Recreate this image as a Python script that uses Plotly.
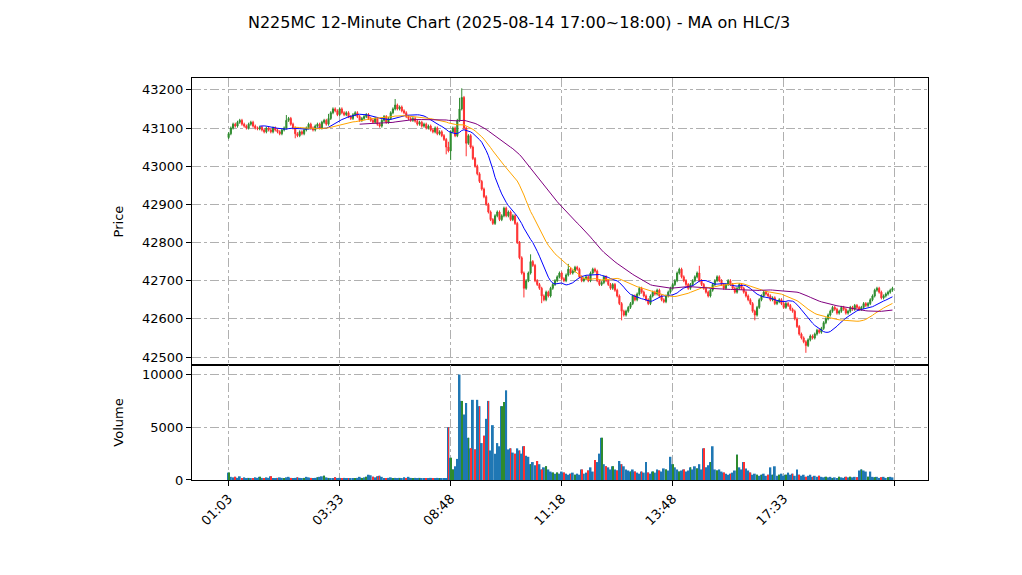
import numpy as np
import pandas as pd
import plotly.graph_objects as go
from plotly.subplots import make_subplots

# closes, 300 bars of 12 minutes
closes = [
    43085, 43100, 43110, 43105, 43115, 43120, 43110, 43105, 43100, 43110,
    43115, 43105, 43100, 43098, 43102, 43095, 43090, 43100, 43095, 43090,
    43100, 43095, 43090, 43085, 43095, 43100, 43120, 43125, 43110, 43100,
    43085, 43080, 43090, 43085, 43095, 43100, 43110, 43100, 43095, 43105,
    43110, 43100, 43115, 43120, 43110, 43125, 43140, 43150, 43145, 43135,
    43150, 43140, 43135, 43140, 43130, 43125, 43135, 43140, 43130, 43120,
    43125, 43130, 43135, 43125, 43120, 43115, 43125, 43110, 43105, 43120,
    43130, 43115, 43125, 43140, 43150, 43160, 43150, 43155, 43145, 43140,
    43130, 43125, 43120, 43125, 43118, 43110, 43115, 43105, 43110, 43100,
    43105, 43095, 43090, 43100, 43085, 43090, 43080, 43070, 43050, 43040,
    43090, 43100, 43080, 43120, 43150, 43180, 43100, 43060, 43080, 43050,
    43020, 43000, 42980, 42960, 42940, 42920, 42900, 42880, 42860, 42850,
    42870, 42880, 42860, 42870, 42890, 42870, 42880, 42860, 42870, 42850,
    42800, 42760, 42720, 42680, 42700, 42720, 42750, 42740, 42700, 42690,
    42680, 42660, 42650, 42670, 42660, 42680, 42690, 42700, 42710, 42720,
    42705, 42700, 42715, 42730, 42720, 42725, 42735, 42730, 42710, 42700,
    42705, 42710, 42700, 42720, 42730, 42725, 42700, 42690, 42695, 42710,
    42700, 42690, 42680, 42690, 42675, 42660, 42640, 42620, 42610, 42620,
    42630, 42640, 42660, 42650, 42665, 42680, 42670, 42660, 42650, 42640,
    42660, 42670, 42665, 42675, 42660, 42650, 42645, 42660, 42670, 42680,
    42690, 42700, 42720, 42730, 42710, 42700, 42690, 42680, 42690, 42700,
    42710, 42720, 42700, 42690, 42680, 42670, 42660, 42675, 42690, 42700,
    42710, 42700, 42690, 42680, 42690, 42700, 42690, 42680, 42670, 42680,
    42690, 42680, 42670, 42660, 42650, 42640, 42620, 42610, 42630, 42650,
    42660, 42670, 42665, 42660, 42650, 42655, 42640, 42645, 42650, 42640,
    42630, 42640, 42635, 42625, 42620, 42600, 42580, 42560, 42550, 42540,
    42530, 42545, 42555, 42550, 42560, 42570, 42565, 42575, 42590, 42600,
    42610, 42620, 42630, 42625, 42615, 42620, 42630, 42625, 42615, 42620,
    42630, 42625, 42635, 42630, 42625, 42630, 42640, 42635, 42640, 42650,
    42660, 42675, 42680, 42670, 42655, 42660, 42665, 42670, 42675, 42680,
]
first_open = 43075
# extra wick length for the bars that visibly spike
high_spikes = {26: 10, 45: 8, 75: 12, 99: 10, 104: 25, 105: 20, 136: 15, 153: 10, 212: 15}
low_spikes = {30: 8, 98: 15, 100: 20, 107: 30, 133: 20, 141: 15, 177: 20, 237: 10, 260: 15}

volumes = [
    700, 300, 250, 300, 200, 350, 200, 250, 150, 200,
    150, 200, 250, 200, 300, 200, 150, 250, 200, 350,
    200, 150, 200, 250, 200, 150, 250, 300, 200, 150,
    200, 250, 200, 150, 200, 300, 250, 200, 150, 200,
    250, 300, 350, 400, 250, 200, 150, 200, 250, 150,
    200, 150, 200, 150, 100, 150, 200, 150, 200, 300,
    200, 250, 300, 500, 450, 300, 250, 350, 400, 300,
    200, 150, 200, 250, 150, 200, 150, 200, 150, 250,
    200, 300, 200, 150, 200, 150, 200, 150, 200, 150,
    150, 200, 150, 150, 200, 150, 150, 150, 150, 5000,
    2100, 1000, 1300, 2000, 10000, 7500, 6200, 7300, 4000, 3000,
    7600, 2900, 7600, 7000, 3500, 4200, 5800, 7500, 2800, 5200,
    2500, 3500, 3200, 7000, 7400, 8500, 2900, 3000, 2600, 2500,
    3000, 2800, 2500, 3200, 2300, 2200, 1500, 1700, 1400, 1800,
    1500, 1000, 1200, 1300, 1000, 800, 700, 600, 700, 600,
    800, 700, 600, 500, 600, 700, 500, 600, 500, 1000,
    600, 700, 900, 1200, 800, 1900, 1700, 2500, 4000, 1500,
    1300, 1200, 1000, 1300, 1000, 900, 1800, 1500, 1300, 1000,
    900, 800, 1000, 800, 700, 600, 800, 700, 1700, 700,
    600, 800, 700, 1000, 900, 800, 1100, 1000, 900, 2200,
    1500, 1200, 1000, 800, 900, 1000, 800, 900, 1200, 1000,
    1300, 1100, 1500, 1000, 3000, 1200, 1400, 1700, 3200, 1000,
    900, 1000, 800, 700, 600, 500, 600, 700, 900, 2400,
    1200, 1000, 1700, 1100, 900, 700, 500, 600, 500, 400,
    500, 600, 400, 500, 1200, 500, 1300, 400, 500, 600,
    400, 500, 700, 500, 600, 400, 1000, 500, 400, 500,
    300, 400, 500, 300, 400, 300, 400, 300, 250, 300,
    250, 300, 200, 250, 200, 300, 250, 200, 300, 250,
    300, 250, 300, 250, 900, 1000, 900, 800, 300, 800,
    300, 250, 300, 200, 250, 300, 200, 250, 300, 250,
]
# 'c' = coloured overlay on the volume bar, 'b' = plain blue
vol_marks = (
    "cbbcbbcbbc" "bcbbcbcbbc" "bbcbbcbbcb" "bcbbcbbcbb" "cbbcbcbbcb"
    "bcbbcbbcbb" "cbcbbcbccb" "bcbbcbbcbb" "cbbcbbcbbc" "bbcbbcbbbc"
    "ccbbbcbbcc" "bcbcbcbcbb" "bbbccbbcbc" "bcbcbbcbbc" "bcbcbbcbcb"
    "bcbbcbcbbc" "bbcbbcbbcb" "cbbcbcbcbb" "bcbcbbcbbc" "bcbbcbbcbb"
    "cbbcbcbbcb" "bcbbcbbcbb" "cbbcbbcbbc" "bbcbbcbbcb" "cbbcbcbbcb"
    "bcbbcbbcbb" "cbbcbbcbbc" "bbcbbcbbcb" "cbbcbcbbcb" "bcbbcbbcbb"
)
tick_idx = [0, 50, 100, 150, 200, 250, 300]
tick_text = ["01:03", "03:33", "08:48", "11:18", "13:48", "17:33", ""]

x = np.arange(len(closes))
c = np.array(closes, dtype=float)
o = np.concatenate([[first_open], c[:-1]])
h = np.maximum(o, c) + 4 + np.array([high_spikes.get(i, 0) for i in x])
l = np.minimum(o, c) - 4 - np.array([low_spikes.get(i, 0) for i in x])
hlc3 = pd.Series((h + l + c) / 3)

UP, DOWN = "#2e8b2e", "#ff3030"

fig = make_subplots(rows=2, cols=1, shared_xaxes=True, vertical_spacing=0,
                    row_heights=[0.714, 0.286])
fig.add_trace(go.Candlestick(
    x=x, open=o, high=h, low=l, close=c, whiskerwidth=0,
    increasing=dict(line=dict(color=UP, width=1), fillcolor=UP),
    decreasing=dict(line=dict(color=DOWN, width=1), fillcolor=DOWN),
    showlegend=False), row=1, col=1)
for n, col in [(15, "blue"), (30, "orange"), (60, "purple")]:
    fig.add_trace(go.Scatter(x=x, y=hlc3.rolling(n).mean(), mode="lines",
                             line=dict(color=col, width=1), showlegend=False,
                             hoverinfo="skip"), row=1, col=1)

fig.add_trace(go.Bar(x=x, y=volumes, marker_color="#1f77b4", marker_line_width=0,
                     width=0.85, showlegend=False), row=2, col=1)
over = [v if m == "c" else None for v, m in zip(volumes, vol_marks)]
ocol = [UP if cc >= oo else DOWN for cc, oo in zip(c, o)]
fig.add_trace(go.Bar(x=x, y=over, marker_color=ocol, marker_line_width=0,
                     width=0.35, showlegend=False), row=2, col=1)

axis = dict(showline=True, linecolor="black", linewidth=1, mirror=True,
            gridcolor="#b0b0b0", griddash="dashdot", gridwidth=1,
            ticks="outside", tickcolor="black", zeroline=False, automargin=False,
            tickfont=dict(size=13))
fig.update_xaxes(**axis, range=[-16.5, 315], tickvals=tick_idx, rangeslider_visible=False)
fig.update_xaxes(ticktext=tick_text, tickangle=-45, row=2, col=1)
fig.update_xaxes(showticklabels=False, row=1, col=1)
fig.update_yaxes(**axis, tickformat="d", title_font=dict(size=13))
fig.update_yaxes(range=[42479, 43231], dtick=100, title_text="Price", row=1, col=1)
fig.update_yaxes(range=[0, 10900], tickvals=[0, 5000, 10000], title_text="Volume", row=2, col=1)

fig.update_layout(
    width=1022, height=575, barmode="overlay",
    margin=dict(l=184, r=102, t=70, b=103, autoexpand=False),
    plot_bgcolor="white", paper_bgcolor="white",
    font=dict(family="DejaVu Sans", size=13, color="black"),
    title=dict(text="N225MC 12-Minute Chart (2025-08-14 17:00~18:00) - MA on HLC/3",
               x=0.5, y=0.985, yanchor="top", font=dict(size=16), automargin=False),
)
fig.write_html("out.html")
